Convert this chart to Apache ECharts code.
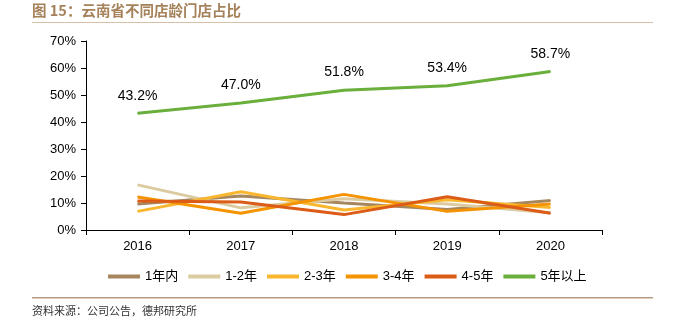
<!DOCTYPE html>
<html><head><meta charset="utf-8">
<script src="https://cdn.jsdelivr.net/npm/echarts@6/dist/echarts.min.js"></script>
<style>html,body{margin:0;padding:0;background:#fff}#c{width:673px;height:328px}</style>
</head><body><div id="c"></div>
<script>
const years = ['2016','2017','2018','2019','2020'];
const seriesNames = ['1年内','1-2年','2-3年','3-4年','4-5年','5年以上'];
const s1 = [9.6, 12.6, 10.0, 7.6, 10.9];
const s2 = [16.7, 8.2, 11.6, 9.6, 6.4];
const s3 = [6.9, 14.2, 7.4, 11.2, 8.3];
const s4 = [12.2, 6.2, 13.2, 6.9, 9.6];
const s5 = [10.7, 10.4, 5.7, 12.3, 6.2];
const s6 = [43.2, 47.0, 51.8, 53.4, 58.7];
const yTicks = [0,10,20,30,40,50,60,70];
const colors = ['#A6865E','#DCCBA0','#F8B72E','#F59300','#DC5B16','#6AAF3C'];
const allData = [s1,s2,s3,s4,s5,s6];

const chart = echarts.init(document.getElementById('c'));
chart.setOption({
  animation:false,
  textStyle:{fontFamily:'Liberation Sans, Arial, Noto Sans CJK SC'},
  grid:{left:86,right:71,top:41,bottom:98},
  graphic:[
    {type:'text',left:32,top:3,style:{text:'图 15：云南省不同店龄门店占比',font:'bold 14.5px "Noto Sans CJK SC"',fill:'#A5825A'}},
    {type:'rect',shape:{x:32,y:22,width:621,height:1},style:{fill:'#D8BFA8'}},
    {type:'rect',shape:{x:32,y:297,width:621,height:1.5},style:{fill:'#B89A7E'}},
    {type:'text',left:32,top:305,style:{text:'资料来源：公司公告，德邦研究所',font:'11px "Noto Sans CJK SC"',fill:'#333'}}
  ],
  legend:{
    bottom:40,left:103,icon:'rect',itemWidth:32,itemHeight:4,itemGap:10,
    textStyle:{fontSize:13,color:'#000',width:36,fontFamily:'Liberation Sans, Noto Sans CJK SC'},
    data:seriesNames
  },
  xAxis:{type:'category',data:years,boundaryGap:true,
    axisLine:{lineStyle:{color:'#000',width:1}},
    axisTick:{show:true,length:5,lineStyle:{color:'#000'}},
    axisLabel:{color:'#000',fontSize:13,margin:10}},
  yAxis:{type:'value',min:yTicks[0],max:yTicks[yTicks.length-1],interval:10,
    axisLine:{show:true,lineStyle:{color:'#000'}},
    axisTick:{show:true,length:5,lineStyle:{color:'#000'}},
    splitLine:{show:false},
    axisLabel:{color:'#000',fontSize:13,formatter:'{value}%',margin:10}},
  series: seriesNames.map((n,i)=>({
    name:n,type:'line',data:allData[i],symbol:'circle',symbolSize:1,showSymbol:true,
    lineStyle:{width:3,color:colors[i]},itemStyle:{color:colors[i]},
    z: i===5?10:2+i,
    label: i===5 ? {show:true,position:'top',distance:10,formatter:p=>p.value.toFixed(1)+'%',fontSize:14,color:'#000'} : {show:false}
  }))
});
</script></body></html>
